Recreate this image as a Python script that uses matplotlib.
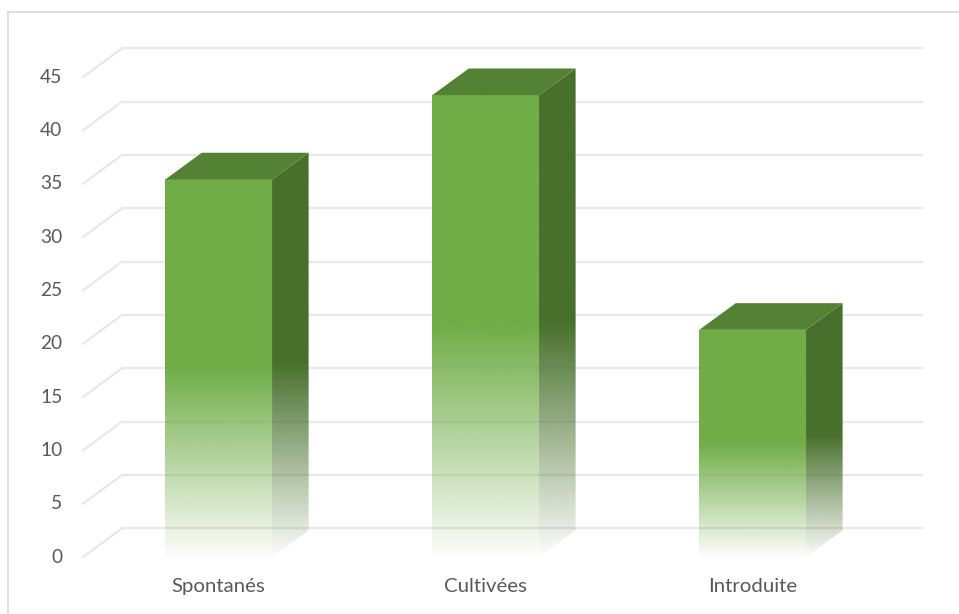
import numpy as np
import matplotlib
matplotlib.use("Agg")
import matplotlib.pyplot as plt
from matplotlib.patches import Polygon
from matplotlib.lines import Line2D
from matplotlib.colors import to_rgb

## data
categories = ["Spontanés", "Cultivées", "Introduite"]
values = [35.4, 43.3, 21.3]
yticks = [0, 5, 10, 15, 20, 25, 30, 35, 40, 45]

## style
front_col = "#70AD47"
side_col = "#48702C"
top_col = "#548235"
grid_col = "#E8E8E8"
text_col = "#595959"
bar_w = 0.4        # width of the front face (category units)
bar_dx, bar_dy = 0.137, 2.5     # depth of the bars
wall_dx, wall_dy = 0.146, 2.69  # depth of the back wall
wall_left = -0.508
wall_right = 2.638

plt.rcParams["font.family"] = ["Lato", "DejaVu Sans"]

fig = plt.figure(figsize=(9.59, 6.14), dpi=100)
ax = fig.add_axes([0, 0, 1, 1])
ax.axis("off")


def gradient(color, n=256, solid=0.5, amin=0.02):
    # alpha goes from amin at the bottom to 1 at `solid` fraction of the height
    r, g, b = to_rgb(color)
    f = np.linspace(0, 1, n)
    a = np.clip(amin + (1 - amin) * f / solid, 0, 1)
    arr = np.zeros((n, 1, 4))
    arr[:, 0, 0], arr[:, 0, 1], arr[:, 0, 2] = r, g, b
    arr[:, 0, 3] = a
    return arr


# back wall gridlines + diagonal floor/side lines
for v in yticks:
    ax.plot([wall_left + wall_dx, wall_right], [v + wall_dy, v + wall_dy],
            color=grid_col, lw=1.6, zorder=1, solid_capstyle="butt")
    ax.plot([wall_left, wall_left + wall_dx], [v, v + wall_dy],
            color=grid_col, lw=1.6, zorder=1)
    ax.text(-0.585, v, str(v), ha="right", va="center", fontsize=13.8, color=text_col)

for i, (cat, v) in enumerate(zip(categories, values)):
    x0, x1 = i - bar_w / 2, i + bar_w / 2

    # side face
    side = Polygon([(x1, 0), (x1 + bar_dx, bar_dy), (x1 + bar_dx, v + bar_dy), (x1, v)],
                   closed=True, facecolor="none", edgecolor="none")
    ax.add_patch(side)
    im = ax.imshow(gradient(side_col, solid=0.48), extent=[x1, x1 + bar_dx, 0, v + bar_dy],
                   origin="lower", aspect="auto", interpolation="bilinear", zorder=2)
    im.set_clip_path(side)

    # front face
    front = Polygon([(x0, 0), (x1, 0), (x1, v), (x0, v)], closed=True,
                    facecolor="none", edgecolor="none")
    ax.add_patch(front)
    im = ax.imshow(gradient(front_col, solid=0.5), extent=[x0, x1, 0, v],
                   origin="lower", aspect="auto", interpolation="bilinear", zorder=3)
    im.set_clip_path(front)

    # top face
    ax.add_patch(Polygon([(x0, v), (x1, v), (x1 + bar_dx, v + bar_dy), (x0 + bar_dx, v + bar_dy)],
                         closed=True, facecolor=top_col, edgecolor="none", zorder=4))

    ax.text(i, -2.8, cat, ha="center", va="center", fontsize=14.7, color=text_col)

ax.set_xlim(-0.819, 2.773)
ax.set_ylim(-5.34, 52.22)

# chart border (top and left visible)
fig.add_artist(Line2D([8 / 959, 1], [1 - 12 / 614, 1 - 12 / 614], color="#D9D9D9", lw=1.2))
fig.add_artist(Line2D([8 / 959, 8 / 959], [0, 1 - 12 / 614], color="#D9D9D9", lw=1.2))

fig.savefig("out.png", dpi=100)
